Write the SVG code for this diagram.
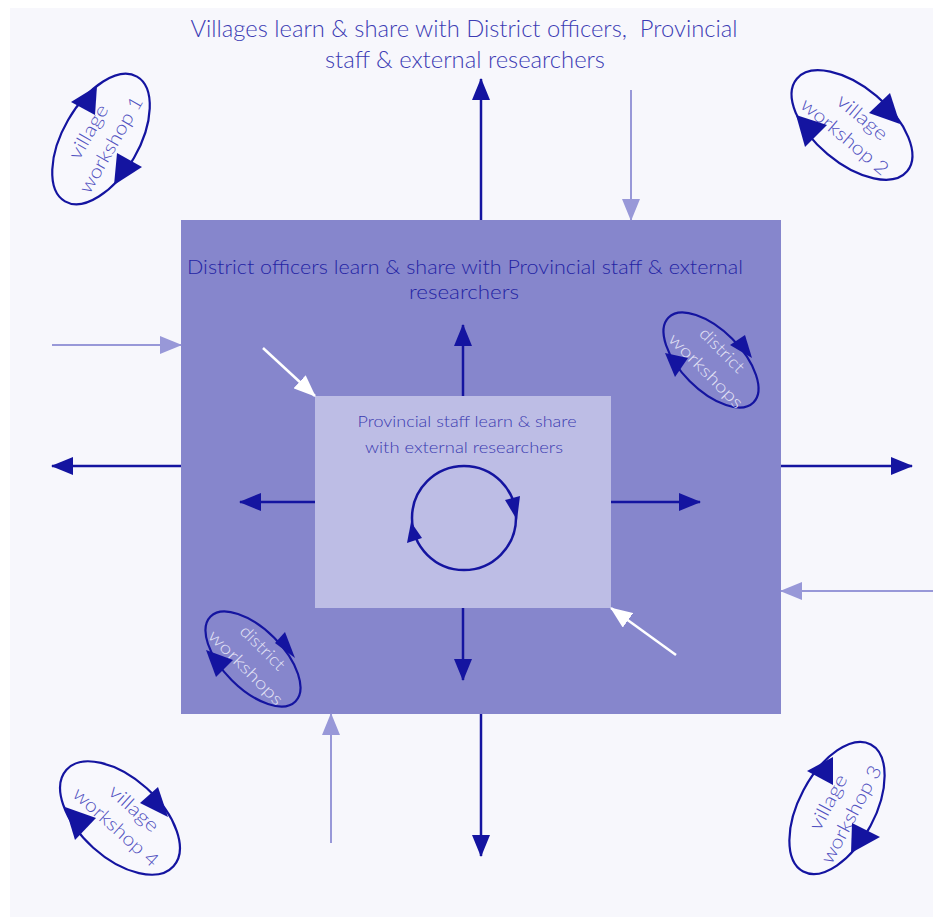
<svg xmlns="http://www.w3.org/2000/svg" width="933" height="917" viewBox="0 0 933 917">
<style>
text{font-family:Lato,"Open Sans","Liberation Sans",sans-serif;font-weight:300;text-anchor:middle}
.title{font-size:23px;fill:#3c3cb4}
.dist{font-size:20px;fill:#2424a4}
.prov{font-size:16px;fill:#3a3ab0}
.vt{font-size:19px;fill:#5050c0}
.dt{font-size:17px;fill:#e4e4f6}
.dark{stroke:#1414a0;stroke-width:2.5;fill:none}
.light{stroke:#9898d8;stroke-width:2;fill:none}
.white{stroke:#ffffff;stroke-width:2.5;fill:none}
.ell{stroke:#1414a0;stroke-width:2.2}
.tri{fill:#1414a0}
</style>
<defs>
<marker id="ad" viewBox="0 0 22 18" refX="21" refY="9" markerWidth="22" markerHeight="18" markerUnits="userSpaceOnUse" orient="auto"><path d="M0,0 L22,9 L0,18 z" fill="#1414a0"/></marker>
<marker id="al" viewBox="0 0 22 18" refX="21" refY="9" markerWidth="22" markerHeight="18" markerUnits="userSpaceOnUse" orient="auto"><path d="M0,0 L22,9 L0,18 z" fill="#9898d8"/></marker>
<marker id="aw" viewBox="0 0 22 18" refX="21" refY="9" markerWidth="22" markerHeight="18" markerUnits="userSpaceOnUse" orient="auto"><path d="M0,0 L22,9 L0,18 z" fill="#ffffff"/></marker>
</defs>
<rect x="0" y="0" width="933" height="917" fill="#ffffff"/>
<rect x="10" y="8" width="923" height="909" fill="#f7f7fc"/>

<g id="title">
<text class="title" x="464" y="37" textLength="547" lengthAdjust="spacingAndGlyphs">Villages learn &amp; share with District officers,&#160; Provincial</text>
<text class="title" x="465" y="68" textLength="280" lengthAdjust="spacingAndGlyphs">staff &amp; external researchers</text>
</g>

<g id="district">
<rect x="181" y="220" width="600" height="494" fill="#8686cc"/>
<text class="dist" x="465" y="274" textLength="556" lengthAdjust="spacingAndGlyphs">District officers learn &amp; share with Provincial staff &amp; external</text>
<text class="dist" x="464" y="299" textLength="110" lengthAdjust="spacingAndGlyphs">researchers</text>
</g>

<g id="provincial">
<rect x="315" y="396" width="296" height="212" fill="#bdbde5"/>
<text class="prov" x="467" y="427" textLength="219" lengthAdjust="spacingAndGlyphs">Provincial staff learn &amp; share</text>
<text class="prov" x="464" y="453" textLength="198" lengthAdjust="spacingAndGlyphs">with external researchers</text>
<circle cx="464" cy="518" r="52" class="dark" stroke-width="2.2"/>
<polygon class="tri" points="505,500 520,496 517,520"/>
<polygon class="tri" points="411,522 422,538 407,543"/>
</g>

<g id="connectors">
<line class="dark" x1="481" y1="220" x2="481" y2="79" marker-end="url(#ad)"/>
<line class="light" x1="631" y1="90" x2="631" y2="220" marker-end="url(#al)"/>
<line class="light" x1="52" y1="345" x2="181" y2="345" marker-end="url(#al)"/>
<line class="dark" x1="181" y1="466" x2="52" y2="466" marker-end="url(#ad)"/>
<line class="dark" x1="781" y1="466" x2="912" y2="466" marker-end="url(#ad)"/>
<line class="light" x1="933" y1="591" x2="781" y2="591" marker-end="url(#al)"/>
<line class="dark" x1="481" y1="714" x2="481" y2="856" marker-end="url(#ad)"/>
<line class="light" x1="331" y1="843" x2="331" y2="714" marker-end="url(#al)"/>
<line class="dark" x1="463" y1="396" x2="463" y2="325" marker-end="url(#ad)"/>
<line class="dark" x1="463" y1="608" x2="463" y2="680" marker-end="url(#ad)"/>
<line class="dark" x1="315" y1="502" x2="240" y2="502" marker-end="url(#ad)"/>
<line class="dark" x1="611" y1="502" x2="700" y2="502" marker-end="url(#ad)"/>
<line class="white" x1="263" y1="348" x2="315" y2="396" marker-end="url(#aw)"/>
<line class="white" x1="676" y1="655" x2="611" y2="608" marker-end="url(#aw)"/>
</g>

<g id="village-workshop-1">
<g transform="translate(101,139) rotate(-60)">
<ellipse rx="72" ry="38" fill="#f8f8fd" class="ell"/>
<text class="vt" x="0" y="-8" textLength="60" lengthAdjust="spacingAndGlyphs">village</text>
<text class="vt" x="0" y="18" textLength="108" lengthAdjust="spacingAndGlyphs">workshop 1</text>
</g>
<polygon class="tri" points="71,102 97,86 95,115"/>
<polygon class="tri" points="117,153 142,167 114,185"/>
</g>

<g id="village-workshop-2">
<g transform="translate(852,125) rotate(40)">
<ellipse rx="72" ry="38" fill="#f8f8fd" class="ell"/>
<text class="vt" x="3" y="-6" textLength="60" lengthAdjust="spacingAndGlyphs">village</text>
<text class="vt" x="2" y="20" textLength="108" lengthAdjust="spacingAndGlyphs">workshop 2</text>
</g>
<polygon class="tri" points="869,113 890,93 900,124"/>
<polygon class="tri" points="796,115 827,125 805,147"/>
</g>

<g id="district-workshops-1">
<g transform="translate(711,360) rotate(45)">
<ellipse rx="60" ry="30" fill="none" class="ell"/>
<text class="dt" x="1" y="-9" textLength="56" lengthAdjust="spacingAndGlyphs">district</text>
<text class="dt" x="4" y="17" textLength="98" lengthAdjust="spacingAndGlyphs">workshops</text>
</g>
<polygon class="tri" points="730,345 745,335 752,358"/>
<polygon class="tri" points="665,353 688,358 675,377"/>
</g>

<g id="district-workshops-2">
<g transform="translate(253,659) rotate(45)">
<ellipse rx="60" ry="30" fill="none" class="ell"/>
<text class="dt" x="-1" y="-9" textLength="56" lengthAdjust="spacingAndGlyphs">district</text>
<text class="dt" x="1" y="17" textLength="98" lengthAdjust="spacingAndGlyphs">workshops</text>
</g>
<polygon class="tri" points="275,643 285,632 295,658"/>
<polygon class="tri" points="206,650 233,660 216,677"/>
</g>

<g id="village-workshop-4">
<g transform="translate(120,818) rotate(42)">
<ellipse rx="72" ry="40" fill="#f8f8fd" class="ell"/>
<text class="vt" x="4" y="-10" textLength="60" lengthAdjust="spacingAndGlyphs">village</text>
<text class="vt" x="3" y="16" textLength="108" lengthAdjust="spacingAndGlyphs">workshop 4</text>
</g>
<polygon class="tri" points="140,803 158,787 168,817"/>
<polygon class="tri" points="65,807 96,818 75,840"/>
</g>

<g id="village-workshop-3">
<g transform="translate(837,808) rotate(-62)">
<ellipse rx="72" ry="38" fill="#f8f8fd" class="ell"/>
<text class="vt" x="1" y="-4" textLength="60" lengthAdjust="spacingAndGlyphs">village</text>
<text class="vt" x="1" y="22" textLength="108" lengthAdjust="spacingAndGlyphs">workshop 3</text>
</g>
<polygon class="tri" points="807,771 833,757 833,785"/>
<polygon class="tri" points="852,823 880,837 851,853"/>
</g>
</svg>
